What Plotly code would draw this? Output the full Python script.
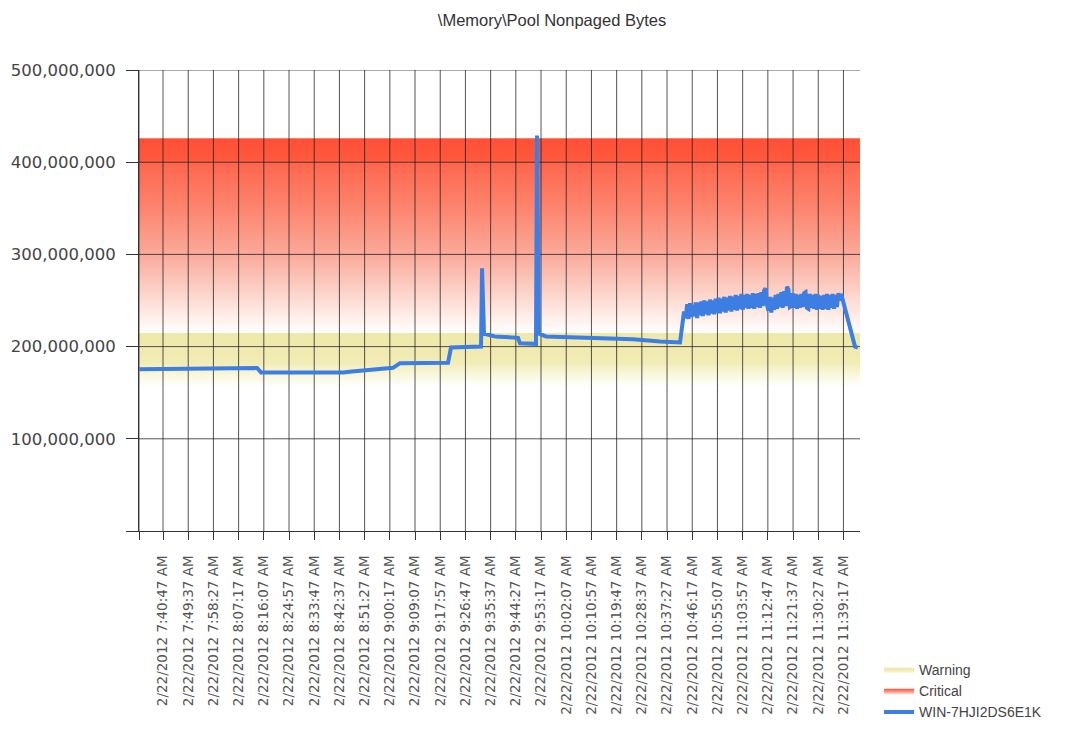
import plotly.graph_objects as go

DATE = "2012-02-22"

# ---- data ----
series_name = "WIN-7HJI2DS6E1K"
series_times = [
    "07:32:22", "07:45:00", "07:53:45", "07:54:30", "08:13:44", "08:15:08", "08:30:00",
    "08:43:52", "08:47:00", "08:50:53", "08:55:00", "09:01:24", "09:03:51", "09:20:41",
    "09:21:44", "09:32:15", "09:32:36", "09:33:18", "09:37:09", "09:45:13", "09:45:55",
    "09:51:31", "09:51:52", "09:52:34", "09:55:01", "10:13:57", "10:25:31", "10:34:59",
    "10:42:00", "10:43:24",
    "10:44:00", "10:44:30", "10:45:00", "10:45:30", "10:46:00", "10:46:30", "10:47:00", "10:47:30",
    "10:48:00", "10:48:30", "10:49:00", "10:49:30", "10:50:00", "10:50:30", "10:51:00", "10:51:30",
    "10:52:00", "10:52:30", "10:53:00", "10:53:30", "10:54:00", "10:54:30", "10:55:00", "10:55:30",
    "10:56:00", "10:56:30", "10:57:00", "10:57:30", "10:58:00", "10:58:30", "10:59:00", "10:59:30",
    "11:00:00", "11:00:30", "11:01:00", "11:01:30", "11:02:00", "11:02:30", "11:03:00", "11:03:30",
    "11:04:00", "11:04:30", "11:05:00", "11:05:30", "11:06:00", "11:06:30", "11:07:00", "11:07:30",
    "11:08:00", "11:08:30", "11:09:00", "11:09:30", "11:10:00", "11:10:30", "11:11:00", "11:11:30",
    "11:12:00", "11:12:30", "11:13:00", "11:13:30", "11:14:00", "11:14:30", "11:15:00", "11:15:30",
    "11:16:00", "11:16:30", "11:17:00", "11:17:30", "11:18:00", "11:18:30", "11:19:00", "11:19:30",
    "11:20:00", "11:20:30", "11:21:00", "11:21:30", "11:22:00", "11:22:30", "11:23:00", "11:23:30",
    "11:24:00", "11:24:30", "11:25:00", "11:25:30", "11:26:00", "11:26:30", "11:27:00", "11:27:30",
    "11:28:00", "11:28:30", "11:29:00", "11:29:30", "11:30:00", "11:30:30", "11:31:00", "11:31:30",
    "11:32:00", "11:32:30", "11:33:00", "11:33:30", "11:34:00", "11:34:30", "11:35:00", "11:35:30",
    "11:36:00", "11:36:30", "11:37:00", "11:37:30", "11:38:00", "11:38:30",
    "11:39:30", "11:41:00", "11:43:20", "11:44:20",
]
series_values_millions = [
    175.5, 175.8, 176.0, 176.8, 176.8, 172.0, 171.5,
    171.8, 173.0, 174.2, 175.5, 177.0, 182.0, 182.5,
    199.0, 200.0, 285.0, 214.0, 211.0, 209.5, 203.5,
    203.0, 429.0, 214.0, 211.0, 209.0, 208.0, 205.5,
    204.5, 238.0,
    231, 246, 230, 247, 232, 245, 233, 248,
    231, 248, 234, 249, 233, 250, 235, 249,
    234, 251, 236, 250, 235, 252, 237, 253,
    236, 252, 238, 254, 237, 253, 239, 255,
    238, 254, 240, 256, 239, 255, 241, 257,
    240, 256, 242, 257, 241, 256, 242, 258,
    241, 257, 243, 258, 242, 259, 244, 261,
    263, 245, 239, 254, 237, 253, 240, 256,
    241, 257, 243, 259, 242, 260, 244, 265,
    262, 243, 244, 258, 242, 257, 241, 256,
    242, 257, 243, 258, 259, 242, 241, 257,
    242, 256, 241, 257, 240, 256, 241, 255,
    240, 256, 241, 257, 240, 256, 242, 257,
    241, 256, 243, 258, 250, 257,
    245, 228, 200, 199,
]

tick_times = [
    "07:40:47", "07:49:37", "07:58:27", "08:07:17", "08:16:07", "08:24:57", "08:33:47",
    "08:42:37", "08:51:27", "09:00:17", "09:09:07", "09:17:57", "09:26:47", "09:35:37",
    "09:44:27", "09:53:17", "10:02:07", "10:10:57", "10:19:47", "10:28:37", "10:37:27",
    "10:46:17", "10:55:07", "11:03:57", "11:12:47", "11:21:37", "11:30:27", "11:39:17",
]
tick_labels = [
    "2/22/2012 7:40:47 AM", "2/22/2012 7:49:37 AM", "2/22/2012 7:58:27 AM", "2/22/2012 8:07:17 AM",
    "2/22/2012 8:16:07 AM", "2/22/2012 8:24:57 AM", "2/22/2012 8:33:47 AM", "2/22/2012 8:42:37 AM",
    "2/22/2012 8:51:27 AM", "2/22/2012 9:00:17 AM", "2/22/2012 9:09:07 AM", "2/22/2012 9:17:57 AM",
    "2/22/2012 9:26:47 AM", "2/22/2012 9:35:37 AM", "2/22/2012 9:44:27 AM", "2/22/2012 9:53:17 AM",
    "2/22/2012 10:02:07 AM", "2/22/2012 10:10:57 AM", "2/22/2012 10:19:47 AM", "2/22/2012 10:28:37 AM",
    "2/22/2012 10:37:27 AM", "2/22/2012 10:46:17 AM", "2/22/2012 10:55:07 AM", "2/22/2012 11:03:57 AM",
    "2/22/2012 11:12:47 AM", "2/22/2012 11:21:37 AM", "2/22/2012 11:30:27 AM", "2/22/2012 11:39:17 AM",
]

y_ticks = [0, 100_000_000, 200_000_000, 300_000_000, 400_000_000, 500_000_000]
y_tick_labels = ["", "100,000,000", "200,000,000", "300,000,000", "400,000,000", "500,000,000"]

axis_start = "07:32:22"
axis_end = "11:45:05"

warning_range = [156_000_000, 215_000_000]
critical_range = [215_000_000, 426_000_000]

title_text = "\\Memory\\Pool Nonpaged Bytes"


def ts(t):
    return f"{DATE} {t}"


x0, x1 = ts(axis_start), ts(axis_end)
series_values = [v * 1_000_000 for v in series_values_millions]

fig = go.Figure()

# Warning band
wl, wh = warning_range
fig.add_trace(go.Scatter(
    x=[x0, x1, x1, x0, x0], y=[wl, wl, wh, wh, wl],
    mode="lines", line=dict(width=0), fill="toself", name="Warning",
    fillgradient=dict(type="vertical", colorscale=[
        [0.0, "rgb(255,255,255)"], [0.2, "rgb(250,248,225)"],
        [0.45, "rgb(242,236,182)"], [1.0, "rgb(238,232,170)"]]),
    hoverinfo="skip",
))

# Critical band
cl, ch = critical_range
fig.add_trace(go.Scatter(
    x=[x0, x1, x1, x0, x0], y=[cl, cl, ch, ch, cl],
    mode="lines", line=dict(width=0), fill="toself", name="Critical",
    fillgradient=dict(type="vertical", colorscale=[
        [0.0, "rgb(255,255,255)"], [0.1, "rgb(254,234,228)"], [0.22, "rgb(252,208,198)"],
        [0.4, "rgb(250,170,155)"], [0.64, "rgb(253,132,110)"], [0.87, "rgb(255,102,78)"],
        [0.89, "rgb(255,88,62)"], [1.0, "rgb(255,80,54)"]]),
    hoverinfo="skip",
))

# Grid lines drawn over the bands
gx, gy = [], []
for t in [axis_start] + tick_times:
    gx += [ts(t), ts(t), None]
    gy += [y_ticks[0], y_ticks[-1], None]
for v in y_ticks[1:]:
    gx += [x0, x1, None]
    gy += [v, v, None]
fig.add_trace(go.Scatter(
    x=gx, y=gy, mode="lines", line=dict(color="rgba(20,20,20,0.72)", width=1),
    showlegend=False, hoverinfo="skip",
))

# Series
fig.add_trace(go.Scatter(
    x=[ts(t) for t in series_times], y=series_values, mode="lines",
    name=series_name, line=dict(color="#3D7EE3", width=4),
))

fig.update_layout(
    width=1078, height=729,
    margin=dict(l=131, r=226, t=62, b=206, autoexpand=False),
    paper_bgcolor="white", plot_bgcolor="white",
    title=dict(text=title_text, x=544 / 1078, xref="container", xanchor="center",
               y=1 - 12 / 729, yref="container", yanchor="middle",
               font=dict(family="Liberation Sans", size=16.5, color="#333")),
    showlegend=True,
    legend=dict(x=1.0264, y=-0.4273, xanchor="left", yanchor="bottom",
                font=dict(family="Liberation Sans", size=14, color="#444"),
                bgcolor="rgba(0,0,0,0)", itemwidth=30, tracegroupgap=0),
)
fig.update_xaxes(
    type="date", range=[x0, x1], tickmode="array", automargin=False,
    tickvals=[x0] + [ts(t) for t in tick_times], ticktext=[""] + tick_labels,
    tickangle=-90, ticks="outside", ticklen=8, tickcolor="#333", ticklabelstandoff=10,
    showgrid=False, zeroline=False, showline=True, linecolor="#333", linewidth=1,
    tickfont=dict(family="DejaVu Sans", size=13.5, color="#555"),
)
fig.update_yaxes(
    range=[0, 500_000_000], tickmode="array", tickvals=y_ticks, ticktext=y_tick_labels,
    automargin=False,
    ticks="outside", ticklen=12, tickcolor="#333", ticklabelstandoff=7,
    showgrid=False, zeroline=False, showline=True, linecolor="#333", linewidth=1,
    tickfont=dict(family="DejaVu Sans", size=16.5, color="#444"),
)

fig.write_html("out.html")
